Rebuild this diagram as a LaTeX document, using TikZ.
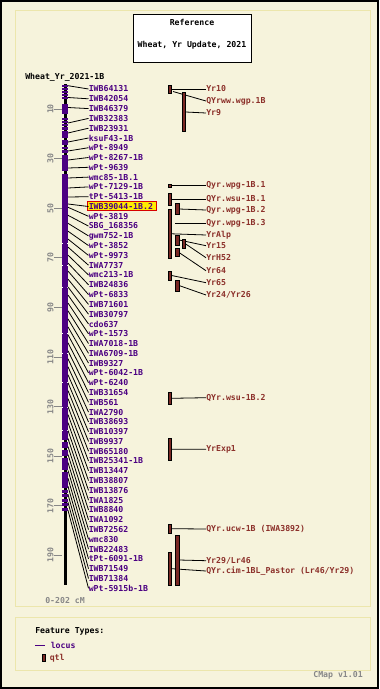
\documentclass[tikz,border=0pt]{standalone}
\usepackage{fontspec}
\setmonofont{DejaVu Sans Mono}
\usepackage{tikz}

\definecolor{cmbg}{RGB}{246,243,220}
\definecolor{cmpanel}{RGB}{236,230,172}
\definecolor{cmlocus}{RGB}{75,0,130}
\definecolor{cmqtl}{RGB}{122,40,36}
\definecolor{cmqtltxt}{RGB}{140,48,42}
\definecolor{cmgray}{RGB}{135,135,135}
\definecolor{cmhl}{RGB}{255,236,0}
\definecolor{cmred}{RGB}{215,0,0}

\newcommand{\cmfont}{\fontsize{6.15}{7}\ttfamily\bfseries}

\begin{document}
\begin{tikzpicture}[x=0.75pt,y=0.75pt,yscale=-1,xscale=1,
  loc/.style={anchor=west,inner sep=0pt,text=cmlocus,font=\cmfont},
  qlab/.style={anchor=west,inner sep=0pt,text=cmqtltxt,font=\cmfont},
  plain/.style={inner sep=0pt,font=\cmfont},
  qtl/.style={fill=cmqtl,draw=black,line width=0.4pt},
  lline/.style={line width=0.6pt}]
\useasboundingbox (0,0) rectangle (379,689);

%Shape: Rectangle [page]
\fill[cmbg] (0,0) rectangle (379,689);
\draw[line width=1.5pt] (1,1) rectangle (378,688);
%Shape: Rectangle [map panel]
\draw[cmpanel,fill=cmbg,line width=0.75pt] (15,10) rectangle (370,606.7);
%Shape: Rectangle [legend panel]
\draw[cmpanel,fill=cmbg,line width=0.75pt] (15,617.3) rectangle (370,670.7);

%Shape: Rectangle [title box]
\draw[fill=white,line width=0.6pt] (133,14) rectangle (251,62);
% Text Node
\draw (192,22.5) node[plain] (ttl1) {Reference};
% Text Node
\draw (192,45.7) node[plain] (ttl2) {Wheat, Yr Update, 2021};
% Text Node
\draw (25,77) node[plain,anchor=west] (mapname) {Wheat\_Yr\_2021-1B};

%Shape: Rectangle [backbone]
\fill[black] (64.2,84) rectangle (66.6,585);
%Shape: Rectangle [locus bands]
\foreach \ya/\yb in {84.5/86.5,87.5/89.5,90.5/92.5,93.5/95.5,96.5/99,104/114,118/120,121/123,
  124/126,127/129.5,131/138,139.5/145,146.5/149,150/153,155/171,174/440,441.5/448,449.5/456,
  457.5/470,472/488,489.5/492.5,494/497,498.5/501.5,503/506,507.5/511}
  \fill[cmlocus] (62,\ya) rectangle (68,\yb);
\foreach \yn in {243,265,287,333,353,382,407,430}{
  \draw[white,line width=0.5pt] (62,\yn) -- (63,\yn);
  \draw[white,line width=0.5pt] (67,\yn) -- (68,\yn);
}

%Straight Lines [scale ticks]
\foreach \c in {10,30,...,190}{
  \draw[cmgray,line width=0.6pt] (54,{84.2+2.48*\c}) -- (62,{84.2+2.48*\c});
  \draw (50.5,{84.2+2.48*\c}) node[plain,rotate=90,text=cmgray] (s\c) {\c};
}
% Text Node
\draw (45,601) node[plain,anchor=west,text=cmgray] (range) {0-202 cM};

%Shape: Rectangle [highlight]
\draw[fill=cmhl,draw=cmred,line width=0.6pt] (87.5,201.7) rectangle (156.5,210.3);

% loci: bar position / label position / name
\foreach \yc/\yl/\t [count=\i] in {
  85.7/89/IWB64131, 97.5/98.8/IWB42054, 107.5/108.6/IWB46379, 123/118.4/IWB32383,
  133/128.2/IWB23931, 142/138/ksuF43-1B, 151/147.7/wPt-8949, 160/157.5/wPt-8267-1B,
  168/167.3/wPt-9639, 178/177.1/wmc85-1B.1, 188/186.9/wPt-7129-1B, 197/196.7/tPt-5413-1B,
  204/206.5/IWB39044-1B.2, 207.3/216.3/wPt-3819, 215.3/226.1/SBG\_168356, 223.3/235.9/gwm752-1B,
  231.2/245.6/wPt-3852, 239.1/255.4/wPt-9973, 247.1/265.2/IWA7737, 255.1/275/wmc213-1B,
  263.1/284.8/IWB24836, 271.1/294.6/wPt-6833, 279.1/304.4/IWB71601, 287/314.2/IWB30797,
  295/324/cdo637, 303/333.8/wPt-1573, 310.9/343.5/IWA7018-1B, 318.9/353.3/IWA6709-1B,
  326.9/363.1/IWB9327, 334.8/372.9/wPt-6042-1B, 342.8/382.7/wPt-6240, 350.8/392.5/IWB31654,
  358.8/402.3/IWB561, 366.8/412.1/IWA2790, 374.8/421.9/IWB38693, 382.7/431.7/IWB10397,
  390.6/441.4/IWB9937, 398.6/451.2/IWB65180, 406.6/461/IWB25341-1B, 414.6/470.8/IWB13447,
  422.6/480.6/IWB38807, 430.5/490.4/IWB13876, 438.5/500.2/IWA1825, 446.5/510/IWB8840,
  454.5/519.8/IWA1092, 462.5/529.6/IWB72562, 470.4/539.3/wmc830, 478.3/549.1/IWB22483,
  486.3/558.9/tPt-6091-1B, 494.3/568.7/IWB71549, 502.3/578.5/IWB71384, 510.3/588.3/wPt-5915b-1B}{
  \coordinate (c\i) at (68,\yc);
  \draw (88.5,\yl) node[loc] (m\i) {\t};
  \draw[lline] (c\i) -- (m\i.west);
}

% QTL anchors
\coordinate (q1) at (171.7,89);
\coordinate (q2) at (173,91.5);
\coordinate (q3) at (185.7,112);
\coordinate (q4) at (171.7,185.7);
\coordinate (q5) at (171.7,199);
\coordinate (q6) at (179,209);
\coordinate (q7) at (175,223.3);
\coordinate (q8) at (171.7,233.8);
\coordinate (q9) at (179,240);
\coordinate (q10) at (185.7,244);
\coordinate (q11) at (179,252.5);
\coordinate (q12) at (171.7,275.5);
\coordinate (q13) at (179,285.5);
\coordinate (q14) at (171.7,398.3);
\coordinate (q15) at (171.7,449.2);
\coordinate (q16) at (171.7,528.7);
\coordinate (q17) at (179,560);
\coordinate (q18) at (171.7,568.7);

% Text Node
\draw (206,89) node[qlab] (t1) {Yr10};
\draw (206,101) node[qlab] (t2) {QYrww.wgp.1B};
\draw (206,113) node[qlab] (t3) {Yr9};
\draw (206,185.7) node[qlab] (t4) {Qyr.wpg-1B.1};
\draw (206,199) node[qlab] (t5) {QYr.wsu-1B.1};
\draw (206,210) node[qlab] (t6) {Qyr.wpg-1B.2};
\draw (206,223.3) node[qlab] (t7) {Qyr.wpg-1B.3};
\draw (206,235) node[qlab] (t8) {YrAlp};
\draw (206,245.7) node[qlab] (t9) {Yr15};
\draw (206,257.7) node[qlab] (t10) {YrH52};
\draw (206,270.7) node[qlab] (t11) {Yr64};
\draw (206,282.7) node[qlab] (t12) {Yr65};
\draw (206,295) node[qlab] (t13) {Yr24/Yr26};
\draw (206,397.7) node[qlab] (t14) {QYr.wsu-1B.2};
\draw (206,449.3) node[qlab] (t15) {YrExp1};
\draw (206,529) node[qlab] (t16) {QYr.ucw-1B (IWA3892)};
\draw (206,560.7) node[qlab] (t17) {Yr29/Lr46};
\draw (206,571) node[qlab] (t18) {QYr.cim-1BL\_Pastor (Lr46/Yr29)};

%Straight Lines [qtl labels]
\foreach \k in {1,...,18}
  \draw[lline] (q\k) -- (t\k.west);

%Shape: Rectangle [qtl]
\draw[qtl] (168.3,85) rectangle (171.7,93.3);
\draw[qtl] (182.3,92.3) rectangle (185.7,131.7);
\draw[qtl] (168.3,184.3) rectangle (171.7,187.3);
\draw[qtl] (168.3,193.3) rectangle (171.7,205);
\draw[qtl] (175.7,203.3) rectangle (179,214.3);
\draw[qtl] (168.3,209.3) rectangle (171.7,258.3);
\draw[qtl] (175.7,235) rectangle (179,245);
\draw[qtl] (182.3,239.3) rectangle (185.7,248.3);
\draw[qtl] (175.7,248.3) rectangle (179,256.7);
\draw[qtl] (168.3,271) rectangle (171.7,280);
\draw[qtl] (175.7,280) rectangle (179,291);
\draw[qtl] (168.3,392.3) rectangle (171.7,404.3);
\draw[qtl] (168.3,438.3) rectangle (171.7,460);
\draw[qtl] (168.3,524) rectangle (171.7,533.3);
\draw[qtl] (175.7,535) rectangle (179,585);
\draw[qtl] (168.3,552.3) rectangle (171.7,585);

% Legend
\draw (35,631.7) node[plain,anchor=west] (ftypes) {Feature Types:};
\coordinate (lg1) at (35,645);
\draw (50.5,645) node[loc] (lglocus) {locus};
\draw[cmlocus,line width=0.75pt] (lg1) -- ([xshift=-4pt]lglocus.west);
\draw[qtl] (42.3,654) rectangle (45.7,661.7);
\draw (49.5,658) node[qlab] (lgqtl) {qtl};
% Text Node
\draw (363,675) node[plain,anchor=east,text=cmgray] (ver) {CMap v1.01};

\end{tikzpicture}
\end{document}
